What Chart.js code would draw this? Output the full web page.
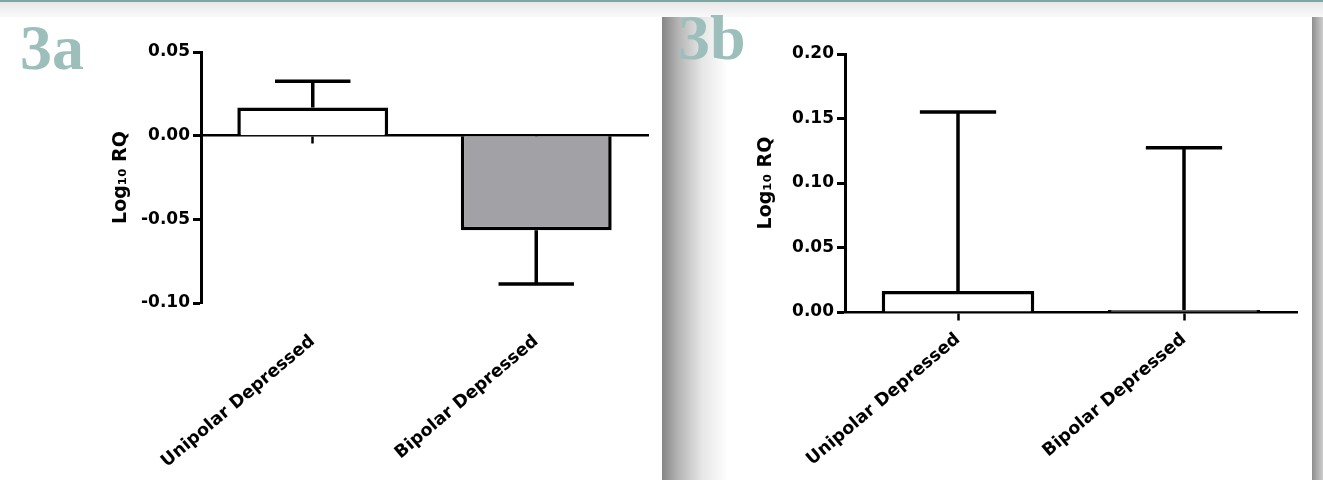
<!DOCTYPE html>
<html>
<head>
<meta charset="utf-8">
<script src="https://cdn.jsdelivr.net/npm/chart.js@4.4.1/dist/chart.umd.min.js"></script>
<style>
  body { margin:0; width:1323px; height:480px; position:relative; overflow:hidden; background:#fff; }
  .topline { position:absolute; left:0; top:0; width:1323px; height:2px; background:#7fa5a4; }
  .topshade { position:absolute; left:0; top:2px; width:1323px; height:15px; background:linear-gradient(#e8e8e8, #f9f9f9); }
  .panel { position:absolute; top:17px; height:463px; background:#fff; }
  .shadow { position:absolute; top:17px; height:463px; }
  .tag { position:absolute; font-family:'Liberation Serif', serif; font-weight:bold; font-size:64px; line-height:1; color:#9dbfbc; z-index:5; }
</style>
</head>
<body>
<div class="topline"></div>
<div class="topshade"></div>
<div class="panel" style="left:79px; width:583px;"><canvas id="chartA"></canvas></div>
<div class="shadow" style="left:662px; width:66px; background:linear-gradient(to right, #858585, #b4b4b4 16px, #e6e6e6 40px, #fff 66px);"></div>
<div class="panel" style="left:728px; width:584px;"><canvas id="chartB"></canvas></div>
<div class="shadow" style="left:1312px; width:11px; background:linear-gradient(to right, #8e8e8e, #cdcdcd);"></div>
<div class="tag" style="left:20px; top:16px;">3a</div>
<div class="tag" style="left:678px; top:6px;">3b</div>
<script>
// data
var categories = ["Unipolar Depressed", "Bipolar Depressed"];
var meansA = [0.0168, -0.0565];
var semA = [0.0157, 0.0321];
var meansB = [0.0163, 0.0015];
var semB = [0.1387, 0.1259];
var ticksA = [-0.10, -0.05, 0.00, 0.05];
var ticksB = [0.00, 0.05, 0.10, 0.15, 0.20];

var font = "'DejaVu Sans', sans-serif";

// error bars, drawn away from zero, cap half the bar width
var errorBars = {
  id: 'errorBars',
  afterDatasetsDraw(chart) {
    var ctx = chart.ctx;
    var y = chart.scales.y;
    var ds = chart.data.datasets[0];
    var meta = chart.getDatasetMeta(0);
    ctx.save();
    ctx.strokeStyle = '#000';
    ctx.lineWidth = 3.5;
    meta.data.forEach(function(bar, i){
      var v = ds.data[i];
      var end = v >= 0 ? v + ds.sem[i] : v - ds.sem[i];
      var y0 = y.getPixelForValue(v);
      var y1 = y.getPixelForValue(end);
      var half = bar.width / 4;
      ctx.beginPath();
      ctx.moveTo(bar.x, y0);
      ctx.lineTo(bar.x, y1);
      ctx.moveTo(bar.x - half, y1);
      ctx.lineTo(bar.x + half, y1);
      ctx.stroke();
    });
    ctx.restore();
  }
};

function makeChart(id, means, sem, colors, tickVals, lay) {
  return new Chart(document.getElementById(id), {
    type: 'bar',
    data: {
      labels: categories,
      datasets: [{
        data: means,
        sem: sem,
        backgroundColor: colors,
        borderColor: '#000',
        borderWidth: 3.5,
        categoryPercentage: 0.75,
        barPercentage: 0.9
      }]
    },
    plugins: [errorBars],
    options: {
      responsive: true,
      maintainAspectRatio: false,
      animation: false,
      layout: { padding: { top: lay.top, right: lay.right, left: 0, bottom: 0 } },
      plugins: { legend: { display: false }, tooltip: { enabled: false } },
      scales: {
        x: {
          position: 'bottom',
          grid: { display: false, drawTicks: false },
          border: { display: false },
          ticks: {
            color: '#000',
            font: { family: font, size: 17.5, weight: 'bold' },
            minRotation: 40,
            maxRotation: 40,
            padding: lay.labelPad
          },
          afterFit: function(s){ s.height = lay.xh; }
        },
        x2: {
          type: 'category',
          axis: 'x',
          labels: categories,
          position: { y: 0 },
          offset: true,
          grid: { display: true, drawOnChartArea: false, offset: false, tickLength: 7, tickColor: '#000', tickWidth: 2.5 },
          border: { color: '#000', width: 2.5 },
          ticks: { display: false }
        },
        y: {
          min: tickVals[0],
          max: tickVals[tickVals.length - 1],
          afterBuildTicks: function(s){ s.ticks = tickVals.map(function(v){ return { value: v }; }); },
          ticks: {
            color: '#000',
            padding: 3,
            font: { family: font, size: 17, weight: 'bold' },
            callback: function(v){ return (Math.abs(v) < 1e-9 ? 0 : v).toFixed(2); }
          },
          grid: { display: true, drawOnChartArea: false, tickLength: 8, tickColor: '#000', tickWidth: 3 },
          border: { color: '#000', width: 3 },
          title: {
            display: true,
            text: 'Log\u2081\u2080 RQ',
            color: '#000',
            font: { family: font, size: 19, weight: 'bold' },
            padding: { top: lay.titlePad, bottom: 0 }
          },
          afterFit: function(s){ s.width = lay.yw; }
        }
      }
    }
  });
}

makeChart('chartA', meansA, semA, ['#ffffff', '#a2a1a6'], ticksA,
  { top: 35, right: 14, xh: 177, yw: 122, titlePad: 31, labelPad: 28 });
makeChart('chartB', meansB, semB, ['#ffffff', '#ffffff'], ticksB,
  { top: 37, right: 15, xh: 168, yw: 117, titlePad: 27, labelPad: 17 });
</script>
</body>
</html>
